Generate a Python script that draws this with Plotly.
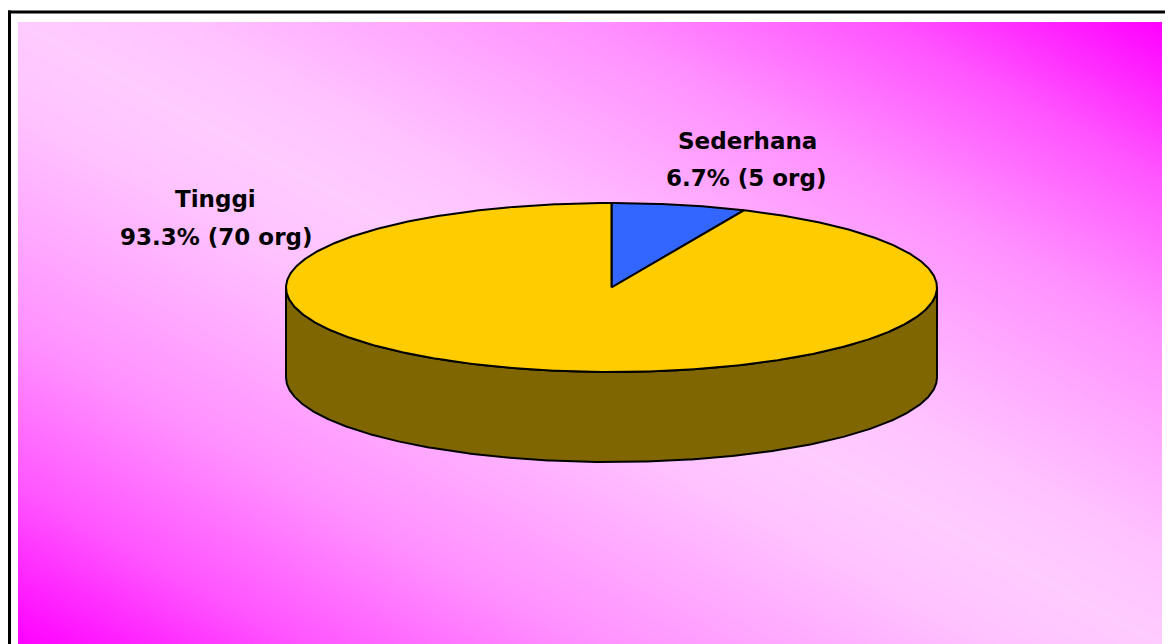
import numpy as np
import plotly.graph_objects as go

# ---- data ----
labels = ["Sederhana", "Tinggi"]
counts = [5, 70]
unit = "org"

# ---- styles ----
slice_colors = ["#3366FF", "#FFCC00"]
side_colors = ["#1A337F", "#806600"]
FONT = "DejaVu Sans, Arial, sans-serif"
FS = 23

W, H = 1173, 644
OFF = 8  # default page body margin
CX, CY, RX, RY, DEPTH = 611.5, 287.5, 325.5, 84.5, 90.0
START = 0.0  # degrees clockwise from 12 o'clock
# label centres (line1, line2) in pixel coords
LABEL_POS = [[(747, 141), (746, 177.5)], [(215.5, 198.5), (216, 237)]]

total = sum(counts)
pcts = [100.0 * c / total for c in counts]


def arc(a0, a1, dy=0.0, n=None):
    if n is None:
        n = max(int(abs(a1 - a0) * 2) + 2, 3)
    t = np.radians(np.linspace(a0, a1, n))
    return CX + RX * np.sin(t), CY - RY * np.cos(t) + dy


fig = go.Figure()

# background gradient (diagonal: magenta corners, light band along main diagonal)
GX0, GX1, GY0, GY1 = 18.0, 1162.0, 22.0, 650.0
nx, ny = 160, 90
dx = (GX1 - GX0) / nx
dy = (GY1 - GY0) / ny
xc = GX0 + dx / 2 + dx * np.arange(nx)
yc = GY0 + dy / 2 + dy * np.arange(ny)
U, V = np.meshgrid((xc - GX0) / (GX1 - GX0), (yc - GY0) / (644 - GY0))
Z = np.abs(U - V)
fig.add_trace(go.Heatmap(
    z=Z, x0=xc[0], dx=dx, y0=yc[0], dy=dy, zsmooth="best",
    colorscale=[[0, "#FFCCFF"], [0.15, "#FFC2FF"], [0.5, "#FF90FF"],
                [0.75, "#FF55FF"], [1, "#FF00FF"]],
    zmin=0, zmax=1, showscale=False, hoverinfo="skip"))

# angles of slices
angles = []
a = START
for c in counts:
    span = 360.0 * c / total
    angles.append((a, a + span))
    a += span

# side walls (front half: 90..270 deg)
for (a0, a1), col in zip(angles, side_colors):
    s, e = max(a0, 90.0), min(a1, 270.0)
    if e <= s:
        continue
    tx, ty = arc(s, e)
    bx, by = arc(e, s, dy=DEPTH)
    fig.add_trace(go.Scatter(
        x=np.concatenate([tx, bx, tx[:1]]), y=np.concatenate([ty, by, ty[:1]]),
        mode="lines", fill="toself", fillcolor=col,
        line=dict(color="black", width=2), hoverinfo="skip", showlegend=False))

# top faces
for (a0, a1), col in zip(angles, slice_colors):
    ax, ay = arc(a0, a1)
    fig.add_trace(go.Scatter(
        x=np.concatenate([[CX], ax, [CX]]), y=np.concatenate([[CY], ay, [CY]]),
        mode="lines", fill="toself", fillcolor=col,
        line=dict(color="black", width=2), hoverinfo="skip", showlegend=False))

# labels
annotations = []
for lab, cnt, pct, pos in zip(labels, counts, pcts, LABEL_POS):
    lines = [lab, f"{pct:.1f}% ({cnt} {unit})"]
    for txt, (px, py) in zip(lines, pos):
        annotations.append(dict(
            x=px, y=py, xref="x", yref="y", text=txt, showarrow=False,
            xanchor="center", yanchor="middle",
            font=dict(family=FONT, size=FS, color="black", weight="bold")))

shapes = [
    dict(type="line", xref="x", yref="y", x0=9.5, x1=9.5, y0=10.5, y1=H + 5,
         line=dict(color="black", width=3)),
    dict(type="line", xref="x", yref="y", x0=8, x1=W + 5, y0=12, y1=12,
         line=dict(color="black", width=3)),
]

fig.update_layout(
    width=W - OFF, height=H - OFF, margin=dict(l=0, r=0, t=0, b=0),
    paper_bgcolor="white", plot_bgcolor="white",
    xaxis=dict(range=[OFF, W], visible=False, fixedrange=True),
    yaxis=dict(range=[H, OFF], visible=False, fixedrange=True),
    annotations=annotations, shapes=shapes, showlegend=False,
)

fig.write_html("out.html")
